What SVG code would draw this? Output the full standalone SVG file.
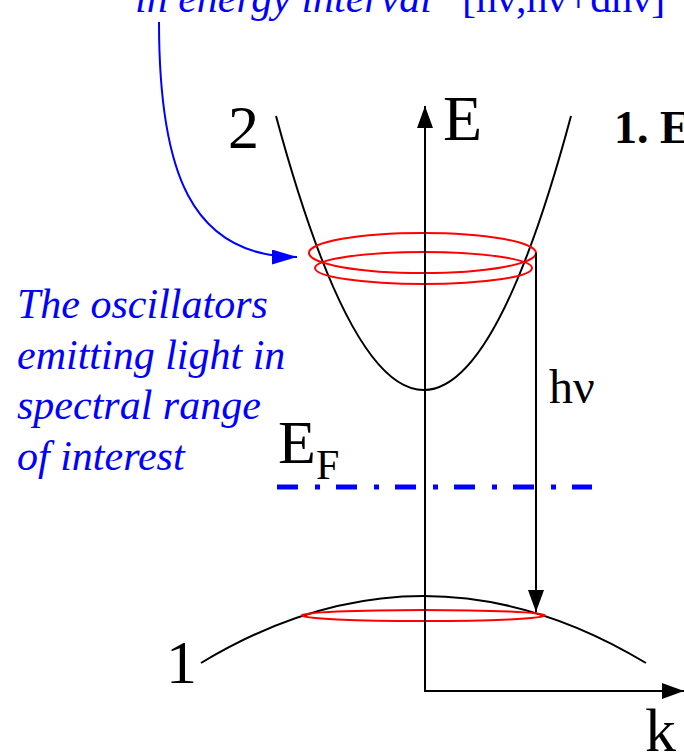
<svg xmlns="http://www.w3.org/2000/svg" width="684" height="752" viewBox="0 0 684 752" font-family="'Liberation Serif', serif">
<style>
text{font-family:'Liberation Serif',serif;}
.blk{fill:#000;}
.blue{fill:#0000ff;}
.it{font-style:italic;}
.curve{fill:none;stroke:#000;stroke-width:2;}
.axis{fill:none;stroke:#000;stroke-width:2;}
.ring{fill:none;stroke:#ff0000;stroke-width:2;}
</style>
<defs>
<marker id="ahBlack" viewBox="0 0 22 16" refX="22" refY="8" markerWidth="22" markerHeight="16" markerUnits="userSpaceOnUse" orient="auto">
<path d="M0,0 L22,8 L0,16 Z" fill="#000"/>
</marker>
<marker id="ahBlue" viewBox="0 0 25 15" refX="25" refY="7.5" markerWidth="25" markerHeight="15" markerUnits="userSpaceOnUse" orient="auto">
<path d="M0,0 L25,7.5 L0,15 Z" fill="#0000ff"/>
</marker>
</defs>
<rect width="684" height="752" fill="#fff"/>

<g id="bands">
<path id="band2" class="curve" d="M276,116 Q424,664 571,116"/>
<path id="band1" class="curve" d="M201,663 Q423.5,529 646,663"/>
</g>

<g id="rings">
<ellipse id="ring-upper-a" class="ring" cx="422.5" cy="253" rx="113.5" ry="20"/>
<ellipse id="ring-upper-b" class="ring" cx="423.5" cy="268" rx="108.5" ry="16"/>
<ellipse id="ring-lower" class="ring" cx="423.3" cy="615.5" rx="121.7" ry="5.5"/>
</g>

<g id="fermi">
<line x1="277" y1="487" x2="592" y2="487" stroke="#0000ff" stroke-width="5" stroke-dasharray="21 17 5 16"/>
</g>

<g id="connectors">
<line id="axis-E" class="axis" x1="425" y1="691" x2="425" y2="106" marker-end="url(#ahBlack)"/>
<line id="axis-k" class="axis" x1="424" y1="691" x2="684" y2="691" marker-end="url(#ahBlack)"/>
<line id="transition" class="axis" x1="536" y1="253" x2="536" y2="612" marker-end="url(#ahBlack)"/>
<path id="pointer" fill="none" stroke="#0000ff" stroke-width="2" d="M159,22 C159,170 190,257 297,257" marker-end="url(#ahBlue)"/>
</g>

<g id="labels">
<text class="blue it" x="135" y="12" font-size="42">in energy interval</text>
<text class="blue" x="462" y="12" font-size="42">[hν,hν+dhν]</text>
<text class="blk" x="228" y="148" font-size="62">2</text>
<text class="blk" x="443" y="140" font-size="64">E</text>
<text class="blk" x="614" y="143" font-size="46" font-weight="bold">1. E</text>
<text class="blk" x="549" y="403" font-size="48">hν</text>
<text class="blk" x="278" y="463" font-size="62">E<tspan font-size="42" dy="16">F</tspan></text>
<text class="blk" x="166" y="683" font-size="62">1</text>
<text class="blk" x="645" y="751" font-size="62">k</text>
<g id="note" class="blue it" font-size="42">
<text x="17" y="318">The oscillators</text>
<text x="17" y="369">emitting light in</text>
<text x="17" y="419">spectral range</text>
<text x="17" y="470">of interest</text>
</g>
</g>
</svg>
